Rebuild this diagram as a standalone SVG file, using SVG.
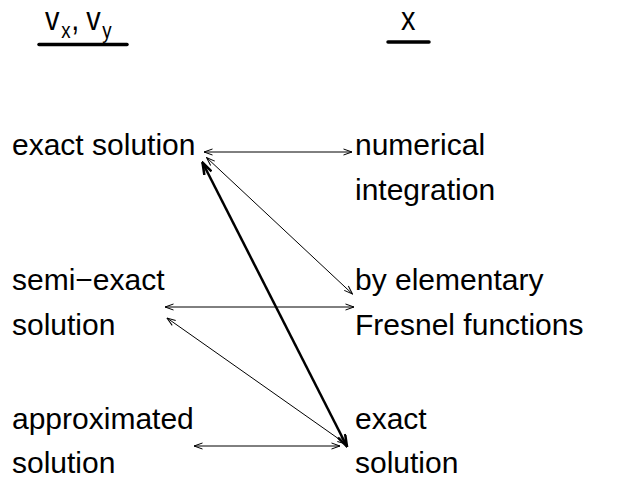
<svg xmlns="http://www.w3.org/2000/svg" width="626" height="479" viewBox="0 0 626 479">
<style>
text{font-family:"Liberation Sans",Arial,sans-serif;font-size:30px;fill:#000}
.hd{font-size:34px}
.sub{font-size:22px}
.thin{stroke:#000;stroke-width:1;fill:none;marker-start:url(#a);marker-end:url(#a)}
.thick{stroke:#000;stroke-width:2.5;fill:none;marker-start:url(#b);marker-end:url(#b)}
.ul{stroke:#000;stroke-width:3.5;stroke-linecap:round}
</style>
<defs>
<marker id="a" markerUnits="userSpaceOnUse" viewBox="0 0 10 8" markerWidth="10" markerHeight="8" refX="9.5" refY="4" orient="auto-start-reverse">
<path d="M1,1 L9.5,4 L1,7" stroke="#000" stroke-width="1" fill="none"/>
</marker>
<marker id="b" markerUnits="userSpaceOnUse" viewBox="0 0 14 10" markerWidth="14" markerHeight="10" refX="13" refY="5" orient="auto-start-reverse">
<path d="M1,1 L13,5 L1,9" stroke="#000" stroke-width="2.5" fill="none"/>
</marker>
</defs>
<g id="header-v">
<text class="hd" transform="translate(45,30) scale(0.85,1)">v<tspan class="sub" dx="2" dy="8">x</tspan><tspan dx="1" dy="-8">,</tspan><tspan dx="8">v</tspan><tspan class="sub" dx="2" dy="8">y</tspan></text>
<line class="ul" x1="39" y1="44.5" x2="127" y2="44.5"/>
</g>
<g id="header-x">
<text class="hd" transform="translate(401,30) scale(0.85,1)">x</text>
<line class="ul" x1="388" y1="42" x2="429" y2="42"/>
</g>
<g id="v-exact"><text x="12" y="155">exact solution</text></g>
<g id="v-semi"><text x="12" y="290">semi−exact</text><text x="12" y="335">solution</text></g>
<g id="v-approx"><text x="12" y="429">approximated</text><text x="12" y="473">solution</text></g>
<g id="x-numerical"><text x="355" y="155">numerical</text><text x="355" y="200">integration</text></g>
<g id="x-fresnel"><text x="355" y="290">by elementary</text><text x="355" y="335">Fresnel functions</text></g>
<g id="x-exact"><text x="355" y="429">exact</text><text x="355" y="473">solution</text></g>
<g id="connectors">
<line class="thin" x1="204" y1="152" x2="352" y2="152"/>
<line class="thin" x1="206.5" y1="157.5" x2="352.5" y2="294"/>
<line class="thin" x1="165" y1="307" x2="354" y2="307"/>
<line class="thin" x1="167" y1="318" x2="346" y2="444"/>
<line class="thin" x1="194" y1="446" x2="340" y2="446"/>
<line class="thick" x1="202.5" y1="162.5" x2="347" y2="446.5"/>
</g>
</svg>
